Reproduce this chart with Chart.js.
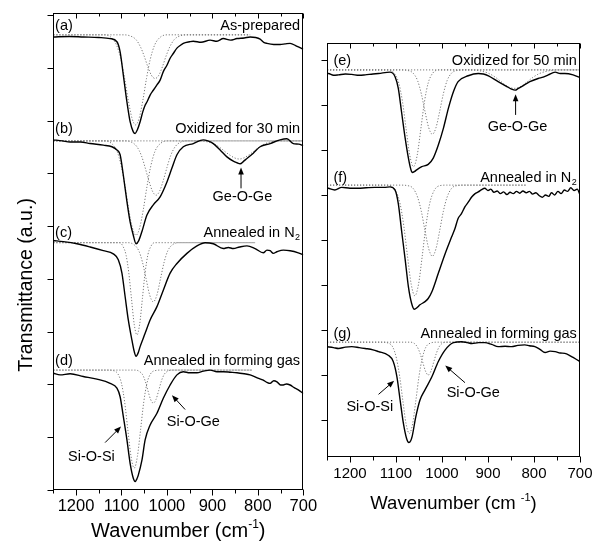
<!DOCTYPE html>
<html>
<head>
<meta charset="utf-8">
<script src="https://cdn.jsdelivr.net/npm/chart.js@4.4.1/dist/chart.umd.min.js"></script>
<style>
  html, body { margin: 0; background: #fff; }
  #wrap { position: relative; width: 615px; height: 544px; }
  #wrap canvas { position: absolute; top: 0; }
</style>
</head>
<body>
<div id="wrap">
  <canvas id="leftChart" width="320" height="544" style="left:0"></canvas>
  <canvas id="rightChart" width="295" height="544" style="left:320px"></canvas>
</div>
<script>
'use strict';

/* ───── DATA: [wavenumber (cm-1), transmittance (a.u.)] ─────────────── */
const WN_MIN = 700, WN_MAX = 1250;
const FONT = "'Liberation Sans', Arial, Helvetica, sans-serif";

// (a) as-prepared
const specA = [[1250,8.50],[1215,8.51],[1184,8.50],[1150,8.49],[1125,8.47],[1110,8.41],[1103,8.22],[1096,7.79],[1088,7.28],[1081,6.91],[1074,6.72],[1070,6.69],[1065,6.76],[1059,6.91],[1053,7.10],[1048,7.22],[1044,7.28],[1037,7.41],[1030,7.50],[1022,7.60],[1015,7.69],[1008,7.85],[1000,7.97],[993,8.10],[986,8.19],[978,8.29],[971,8.34],[964,8.38],[950,8.41],[942,8.42],[925,8.40],[905,8.44],[890,8.42],[876,8.47],[860,8.44],[846,8.47],[830,8.48],[817,8.50],[805,8.49],[795,8.46],[787,8.40],[780,8.38],[765,8.36],[751,8.36],[740,8.37],[729,8.38],[715,8.33],[700,8.27]];
const fitA1 = [[1250,8.54],[1139,8.54],[1124,8.50],[1111,8.35],[1101,8.07],[1093,7.72],[1085,7.31],[1077,6.98],[1069,6.85],[1061,6.98],[1053,7.31],[1045,7.72],[1037,8.07],[1027,8.35],[1014,8.50],[999,8.54],[817,8.54]];
const fitA2 = [[1250,8.54],[1095,8.54],[1081,8.52],[1068,8.45],[1058,8.31],[1050,8.14],[1042,7.94],[1034,7.78],[1026,7.72],[1018,7.78],[1010,7.94],[1002,8.14],[994,8.31],[984,8.45],[971,8.52],[956,8.54],[817,8.54]];

// (b) oxidized 30 min
const specB = [[1250,6.57],[1230,6.55],[1213,6.53],[1190,6.53],[1169,6.50],[1140,6.47],[1121,6.44],[1110,6.38],[1103,6.29],[1096,5.91],[1088,5.41],[1081,5.03],[1074,4.78],[1068,4.62],[1062,4.68],[1055,4.85],[1044,5.16],[1030,5.35],[1015,5.50],[1000,5.78],[989,6.04],[978,6.29],[964,6.44],[942,6.50],[920,6.57],[910,6.55],[898,6.50],[883,6.38],[868,6.25],[854,6.17],[846,6.14],[839,6.12],[831,6.17],[824,6.22],[810,6.32],[795,6.44],[773,6.50],[751,6.57],[736,6.59],[722,6.50],[710,6.49],[700,6.46]];
const fitB1 = [[1250,6.55],[1138,6.55],[1123,6.51],[1110,6.36],[1100,6.06],[1092,5.69],[1084,5.26],[1076,4.92],[1068,4.78],[1060,4.92],[1052,5.26],[1044,5.69],[1036,6.06],[1026,6.36],[1013,6.51],[998,6.55],[700,6.55]];
const fitB2 = [[1250,6.55],[1094,6.55],[1079,6.53],[1066,6.44],[1056,6.27],[1048,6.05],[1040,5.81],[1032,5.61],[1024,5.53],[1016,5.61],[1008,5.81],[1000,6.05],[992,6.27],[982,6.44],[969,6.53],[954,6.55],[700,6.55]];
const fitB3 = [[1250,6.55],[940,6.55],[916,6.54],[896,6.49],[881,6.41],[871,6.34],[861,6.28],[851,6.23],[841,6.21],[831,6.23],[821,6.28],[811,6.34],[801,6.41],[786,6.49],[766,6.54],[742,6.55],[700,6.55]];

// (c) annealed in N2
const specC = [[1250,4.68],[1228,4.66],[1198,4.62],[1169,4.56],[1140,4.49],[1118,4.43],[1107,4.32],[1099,4.07],[1092,3.63],[1085,3.19],[1077,2.81],[1072,2.60],[1068,2.51],[1063,2.58],[1059,2.69],[1048,2.94],[1037,3.19],[1022,3.44],[1008,3.75],[993,4.07],[978,4.25],[956,4.44],[934,4.58],[916,4.64],[898,4.62],[876,4.53],[865,4.55],[854,4.53],[840,4.56],[824,4.58],[806,4.53],[788,4.45],[780,4.50],[773,4.49],[766,4.44],[758,4.47],[744,4.50],[729,4.49],[711,4.45],[700,4.41]];
const fitC1 = [[1250,4.64],[1104,4.64],[1096,4.56],[1090,4.41],[1084,4.08],[1078,3.59],[1072,3.11],[1066,2.91],[1060,3.11],[1054,3.59],[1048,4.08],[1042,4.41],[1036,4.56],[1028,4.64],[806,4.64]];
const fitC2 = [[1250,4.64],[1085,4.64],[1072,4.60],[1062,4.49],[1054,4.28],[1046,3.97],[1038,3.66],[1030,3.53],[1022,3.66],[1014,3.97],[1006,4.28],[998,4.49],[988,4.60],[975,4.64],[806,4.64]];

// (d) annealed in forming gas
const specD = [[1250,2.19],[1235,2.16],[1213,2.18],[1184,2.13],[1154,2.08],[1125,2.00],[1110,1.91],[1103,1.75],[1096,1.38],[1088,0.94],[1081,0.50],[1074,0.22],[1070,0.16],[1066,0.21],[1063,0.28],[1055,0.56],[1048,0.94],[1037,1.22],[1022,1.44],[1008,1.72],[993,1.97],[978,2.16],[964,2.22],[950,2.20],[934,2.20],[920,2.23],[905,2.25],[890,2.22],[876,2.22],[860,2.21],[846,2.20],[830,2.18],[817,2.16],[800,2.10],[788,2.06],[780,2.02],[773,2.00],[765,2.05],[758,2.03],[750,1.97],[744,1.97],[737,1.99],[729,1.97],[720,1.92],[711,1.88],[700,1.81]];
const fitD1 = [[1250,2.25],[1130,2.25],[1118,2.24],[1108,2.18],[1100,2.00],[1093,1.65],[1086,1.13],[1079,0.63],[1072,0.41],[1065,0.63],[1058,1.13],[1051,1.65],[1044,2.00],[1036,2.18],[1026,2.24],[1012,2.25],[813,2.25]];
const fitD2 = [[1250,2.25],[1068,2.25],[1060,2.22],[1054,2.17],[1048,2.05],[1042,1.87],[1036,1.70],[1030,1.63],[1024,1.70],[1018,1.87],[1012,2.05],[1006,2.17],[1000,2.22],[992,2.25],[813,2.25]];

// (e) oxidized 50 min
const specE = [[1250,7.70],[1247,7.70],[1236,7.66],[1225,7.67],[1210,7.69],[1196,7.68],[1180,7.66],[1167,7.67],[1150,7.69],[1138,7.70],[1113,7.73],[1102,7.63],[1095,7.37],[1088,6.85],[1080,6.26],[1073,5.82],[1068,5.58],[1065,5.50],[1060,5.52],[1055,5.56],[1044,5.63],[1030,5.68],[1019,5.82],[1008,6.11],[997,6.48],[986,6.93],[975,7.30],[965,7.52],[943,7.65],[921,7.70],[910,7.69],[899,7.65],[878,7.52],[859,7.41],[850,7.36],[841,7.33],[834,7.37],[827,7.41],[809,7.52],[791,7.59],[780,7.62],[769,7.67],[754,7.73],[743,7.70],[733,7.70],[715,7.67],[700,7.61]];
const fitE1 = [[1250,7.78],[1117,7.78],[1104,7.71],[1094,7.49],[1086,7.08],[1078,6.47],[1070,5.88],[1062,5.63],[1054,5.88],[1046,6.47],[1038,7.08],[1030,7.49],[1020,7.71],[1007,7.78],[700,7.78]];
const fitE2 = [[1250,7.78],[1090,7.78],[1076,7.77],[1063,7.71],[1053,7.54],[1045,7.25],[1037,6.86],[1029,6.50],[1021,6.35],[1013,6.50],[1005,6.86],[997,7.25],[989,7.54],[979,7.71],[966,7.77],[950,7.78],[700,7.78]];
const fitE3 = [[1250,7.78],[940,7.78],[918,7.76],[898,7.70],[883,7.61],[873,7.53],[863,7.45],[853,7.39],[843,7.37],[833,7.39],[823,7.45],[813,7.53],[803,7.61],[788,7.70],[768,7.76],[745,7.78],[700,7.78]];

// (f) annealed in N2
const specF = [[1250,5.16],[1247,5.15],[1233,5.11],[1218,5.17],[1200,5.15],[1182,5.15],[1165,5.16],[1146,5.17],[1125,5.17],[1113,5.18],[1102,5.11],[1095,4.81],[1088,4.22],[1080,3.56],[1073,2.96],[1066,2.59],[1060,2.46],[1054,2.50],[1048,2.56],[1037,2.63],[1030,2.70],[1022,2.85],[1008,3.26],[993,3.70],[979,4.07],[972,4.25],[965,4.48],[958,4.58],[950,4.74],[943,4.84],[935,4.96],[928,5.03],[921,5.07],[914,5.12],[907,5.15],[900,5.10],[894,5.13],[887,5.06],[880,5.09],[873,5.03],[866,5.07],[859,5.01],[852,5.06],[845,5.03],[838,5.08],[831,5.04],[824,5.09],[817,5.05],[810,5.08],[803,5.02],[796,5.05],[789,4.99],[782,4.95],[775,5.00],[768,4.97],[762,5.05],[755,5.00],[748,5.08],[741,5.03],[734,5.11],[727,5.08],[720,5.16],[713,5.10],[706,5.13],[700,5.00]];
const fitF1 = [[1250,5.22],[1125,5.22],[1114,5.21],[1101,5.10],[1091,4.80],[1083,4.31],[1075,3.64],[1067,3.02],[1059,2.76],[1051,3.02],[1043,3.64],[1035,4.31],[1027,4.80],[1017,5.10],[1004,5.21],[990,5.22],[816,5.22]];
const fitF2 = [[1250,5.22],[1090,5.22],[1076,5.21],[1063,5.15],[1053,4.95],[1045,4.64],[1037,4.21],[1029,3.81],[1021,3.64],[1013,3.81],[1005,4.21],[997,4.64],[989,4.95],[979,5.15],[966,5.21],[950,5.22],[816,5.22]];

// (g) annealed in forming gas
const specG = [[1250,1.63],[1236,1.61],[1225,1.59],[1210,1.62],[1196,1.63],[1180,1.61],[1167,1.59],[1150,1.56],[1138,1.52],[1117,1.44],[1106,1.30],[1098,0.96],[1091,0.44],[1084,-0.07],[1077,-0.41],[1072,-0.50],[1068,-0.46],[1065,-0.37],[1057,0.07],[1048,0.44],[1037,0.67],[1022,0.96],[1008,1.30],[993,1.56],[975,1.72],[957,1.74],[945,1.72],[935,1.70],[920,1.72],[907,1.72],[892,1.68],[878,1.63],[863,1.64],[849,1.63],[835,1.66],[820,1.67],[810,1.65],[798,1.63],[787,1.57],[776,1.50],[765,1.53],[754,1.52],[743,1.49],[733,1.48],[725,1.45],[715,1.39],[700,1.30]];
const fitG1 = [[1250,1.73],[1130,1.73],[1117,1.71],[1107,1.62],[1099,1.37],[1092,0.97],[1085,0.42],[1078,-0.09],[1071,-0.30],[1064,-0.09],[1057,0.42],[1050,0.97],[1043,1.37],[1035,1.62],[1025,1.71],[1012,1.73],[700,1.73]];
const fitG2 = [[1250,1.73],[1068,1.73],[1060,1.70],[1054,1.63],[1048,1.49],[1042,1.29],[1036,1.09],[1030,1.00],[1024,1.09],[1018,1.29],[1012,1.49],[1006,1.63],[1000,1.70],[992,1.73],[700,1.73]];

/* ───── LABELS ───────────────────────────────────────────────────────── */
const leftTags   = ['(a)', '(b)', '(c)', '(d)'];
const leftNames  = ['As-prepared', 'Oxidized for 30 min', 'Annealed in N', 'Annealed in forming gas'];
const leftSubs   = ['', '', '2', ''];
const leftLabelY = [8.64, 6.70, 4.75, 2.35];

const rightTags   = ['(e)', '(f)', '(g)'];
const rightNames  = ['Oxidized for 50 min', 'Annealed in N', 'Annealed in forming gas'];
const rightSubs   = ['', '2', ''];
const rightLabelY = [7.89, 5.30, 1.82];

const leftNotes = [
    { text: 'Ge-O-Ge', at: [834, 5.49], from: [837, 5.66], to: [837, 6.05] },
    { text: 'Si-O-Si', at: [1166, 0.62], from: [1136, 0.89], to: [1101, 1.19] },
    { text: 'Si-O-Ge', at: [942, 1.28], from: [960, 1.51], to: [989, 1.78] },
];
const rightNotes = [
    { text: 'Ge-O-Ge', at: [836, 6.51], from: [840, 6.78], to: [840, 7.24] },
    { text: 'Si-O-Si', at: [1157, 0.30], from: [1138, 0.57], to: [1104, 0.87] },
    { text: 'Si-O-Ge', at: [932, 0.61], from: [950, 0.83], to: [993, 1.21] },
];

/* ───── HELPERS ──────────────────────────────────────────────────────── */
Chart.defaults.font.family = FONT;
Chart.defaults.color = '#000';

const toXY = pts => pts.map(([x, y]) => ({ x, y }));

function measured(pts) {
    return {
        data: toXY(pts), borderColor: '#000', borderWidth: 1.4,
        pointRadius: 0, cubicInterpolationMode: 'monotone', fill: false, order: 0,
    };
}
function fitted(pts) {
    return {
        data: toXY(pts), borderColor: '#7a7a7a', borderWidth: 1, borderDash: [1.2, 1.8],
        pointRadius: 0, cubicInterpolationMode: 'monotone', fill: false, order: 1,
    };
}

function arrow(ctx, x0, y0, x1, y1) {
    const ang = Math.atan2(y1 - y0, x1 - x0), hl = 7, hw = 2.8;
    const c = Math.cos(ang), s = Math.sin(ang);
    ctx.beginPath();
    ctx.moveTo(x0, y0); ctx.lineTo(x1 - hl * 0.7 * c, y1 - hl * 0.7 * s);
    ctx.stroke();
    ctx.beginPath();
    ctx.moveTo(x1, y1);
    ctx.lineTo(x1 - hl * c + hw * s, y1 - hl * s - hw * c);
    ctx.lineTo(x1 - hl * c - hw * s, y1 - hl * s + hw * c);
    ctx.closePath(); ctx.fill();
}

/* ───── FRAME / TICKS / TEXT PLUGIN ──────────────────────────────────── */
function makeDecor(p) {
    return {
        id: 'decor',
        afterDatasetsDraw(chart) {
            const { ctx, chartArea: a, scales: { x, y } } = chart;
            const L = Math.round(a.left) + 0.5, R = Math.round(a.right) - 0.5;
            const T = Math.round(a.top) + 0.5,  B = Math.round(a.bottom) - 0.5;
            ctx.save();
            ctx.strokeStyle = '#000'; ctx.fillStyle = '#000'; ctx.lineWidth = 1;
            ctx.strokeRect(L, T, R - L, B - T);

            ctx.beginPath();
            for (let v = WN_MIN; v <= WN_MAX; v += 50) {
                const px = Math.round(x.getPixelForValue(v)) + 0.5, big = v % 100 === 0;
                ctx.moveTo(px, B); ctx.lineTo(px, B + (big ? 6 : 4));
                ctx.moveTo(px, T); ctx.lineTo(px, T + (big ? 5 : 3));
            }
            for (let k = 0; k * p.yStep <= y.max; k++) {
                const py = Math.round(y.getPixelForValue(k * p.yStep)) + 0.5;
                ctx.moveTo(L - 6, py); ctx.lineTo(L, py);
            }
            ctx.stroke();

            // panel tags and sample names
            const big = `${p.labelSize}px ${FONT}`, small = `${Math.round(p.labelSize * 0.65)}px ${FONT}`;
            ctx.textBaseline = 'alphabetic';
            p.tags.forEach((tag, i) => {
                const yy = y.getPixelForValue(p.labelY[i]);
                ctx.font = big; ctx.textAlign = 'left';
                ctx.fillText(tag, x.getPixelForValue(p.tagX), yy);
                let xr = x.getPixelForValue(p.nameX);
                ctx.textAlign = 'right';
                if (p.subs[i]) {
                    ctx.font = small;
                    ctx.fillText(p.subs[i], xr, yy + 3);
                    xr -= ctx.measureText(p.subs[i]).width + 0.5;
                    ctx.font = big;
                }
                ctx.fillText(p.names[i], xr, yy);
            });

            // band annotations
            ctx.font = big; ctx.textAlign = 'center'; ctx.textBaseline = 'middle';
            p.notes.forEach(n => {
                ctx.fillText(n.text, x.getPixelForValue(n.at[0]), y.getPixelForValue(n.at[1]));
                arrow(ctx, x.getPixelForValue(n.from[0]), y.getPixelForValue(n.from[1]),
                           x.getPixelForValue(n.to[0]),   y.getPixelForValue(n.to[1]));
            });

            // x-axis title with superscript
            const tf = `${p.titleSize}px ${FONT}`, sf = `${Math.round(p.titleSize * 0.62)}px ${FONT}`;
            const [head, sup, tail] = p.titleParts;
            ctx.textAlign = 'left'; ctx.textBaseline = 'alphabetic';
            ctx.font = tf; const wHead = ctx.measureText(head).width, wTail = ctx.measureText(tail).width;
            ctx.font = sf; const wSup = ctx.measureText(sup).width;
            let tx = (a.left + a.right) / 2 - (wHead + wSup + wTail) / 2;
            const ty = a.bottom + p.titleDy;
            ctx.font = tf; ctx.fillText(head, tx, ty); tx += wHead;
            ctx.font = sf; ctx.fillText(sup, tx, ty - p.titleSize * 0.42); tx += wSup;
            ctx.font = tf; ctx.fillText(tail, tx, ty);

            if (p.yTitle) {
                ctx.translate(p.yTitle.x, p.yTitle.y);
                ctx.rotate(-Math.PI / 2);
                ctx.font = `${p.yTitle.size}px ${FONT}`; ctx.textAlign = 'center';
                ctx.fillText(p.yTitle.text, 0, 0);
            }
            ctx.restore();
        },
    };
}

/* ───── PANEL FACTORY ────────────────────────────────────────────────── */
function makePanel(p) {
    const datasets = [...p.spectra.map(measured), ...p.fits.map(fitted)];
    return new Chart(document.getElementById(p.canvas), {
        type: 'line',
        data: { datasets },
        options: {
            responsive: false, animation: false, events: [],
            layout: { padding: { left: 0, top: p.pad.top, right: p.pad.right, bottom: 0 } },
            plugins: { legend: { display: false }, tooltip: { enabled: false } },
            scales: {
                x: {
                    type: 'linear', reverse: true, min: WN_MIN, max: WN_MAX,
                    grid: { display: false, drawTicks: true, tickLength: 6 },
                    border: { display: false },
                    ticks: {
                        stepSize: 100, includeBounds: false, autoSkip: false, maxRotation: 0,
                        padding: p.tickPad, color: '#000', font: { size: p.tickSize },
                        callback: v => String(v),
                    },
                    afterFit: s => { s.height = p.xAxisH; },
                },
                y: {
                    min: p.yMin, max: p.yMax,
                    grid: { display: false, drawTicks: false },
                    border: { display: false },
                    ticks: { display: false },
                    afterFit: s => { s.width = p.yAxisW; },
                },
            },
        },
        plugins: [makeDecor(p)],
    });
}

makePanel({
    canvas: 'leftChart',
    spectra: [specA, specB, specC, specD],
    fits: [fitA1, fitA2, fitB1, fitB2, fitB3, fitC1, fitC2, fitD1, fitD2],
    yMin: 0, yMax: 8.944, yStep: 0.99,
    pad: { top: 13.3, right: 16.7 }, yAxisW: 53.3, xAxisH: 54,
    tickSize: 16.5, tickPad: 1,
    labelSize: 14.5, tags: leftTags, names: leftNames, subs: leftSubs, labelY: leftLabelY,
    tagX: 1246, nameX: 707, notes: leftNotes,
    titleSize: 20, titleDy: 46.7, titleParts: ['Wavenumber (cm', '-1', ')'],
    yTitle: { text: 'Transmittance (a.u.)', x: 32, y: 285, size: 19.5 },
});

makePanel({
    canvas: 'rightChart',
    spectra: [specE, specF, specG],
    fits: [fitE1, fitE2, fitE3, fitF1, fitF2, fitG1, fitG2],
    yMin: -0.815, yMax: 8.378, yStep: 1,
    pad: { top: 43, right: 35 }, yAxisW: 7, xAxisH: 87.3,
    tickSize: 15, tickPad: 2,
    labelSize: 14.5, tags: rightTags, names: rightNames, subs: rightSubs, labelY: rightLabelY,
    tagX: 1236, nameX: 707, notes: rightNotes,
    titleSize: 18.5, titleDy: 52.3, titleParts: ['Wavenumber (cm ', '-1', ')'],
    yTitle: null,
});
</script>
</body>
</html>
